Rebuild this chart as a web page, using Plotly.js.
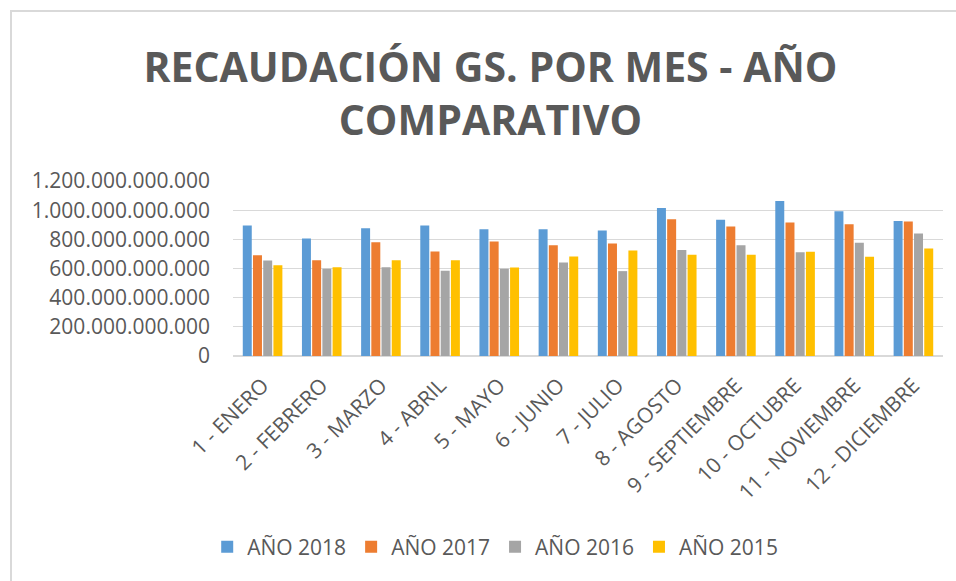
<!DOCTYPE html>
<html>
<head>
<meta charset="utf-8">
<script src="https://cdn.plot.ly/plotly-3.0.1.min.js"></script>
<style>
html,body{margin:0;padding:0;background:#fff;}
#wrap{position:relative;width:956px;height:581px;overflow:hidden;}
#chart{position:absolute;left:0;top:0;width:956px;height:581px;}
#frame{position:absolute;left:10px;top:10px;width:1000px;height:700px;border-left:2px solid #d9d9d9;border-top:2px solid #d9d9d9;pointer-events:none;}
</style>
</head>
<body>
<div id="wrap"><div id="chart"></div><div id="frame"></div></div>
<script>
const months = ["1 - ENERO","2 - FEBRERO","3 - MARZO","4 - ABRIL","5 - MAYO","6 - JUNIO","7 - JULIO","8 - AGOSTO","9 - SEPTIEMBRE","10 - OCTUBRE","11 - NOVIEMBRE","12 - DICIEMBRE"];
const seriesNames = ["AÑO 2018","AÑO 2017","AÑO 2016","AÑO 2015"];
const y2018 = [894e9, 805e9, 876e9, 894e9, 869e9, 869e9, 860e9, 1015e9, 935e9, 1063e9, 992e9, 926e9];
const y2017 = [691e9, 657e9, 780e9, 716e9, 785e9, 760e9, 771e9, 938e9, 888e9, 915e9, 903e9, 922e9];
const y2016 = [655e9, 598e9, 609e9, 584e9, 598e9, 641e9, 582e9, 726e9, 760e9, 712e9, 776e9, 840e9];
const y2015 = [623e9, 609e9, 657e9, 657e9, 607e9, 682e9, 723e9, 694e9, 694e9, 714e9, 680e9, 737e9];
const yTicks = [0, 200e9, 400e9, 600e9, 800e9, 1000e9, 1200e9];
const colors = ["#5B9BD5","#ED7D31","#A5A5A5","#FFC000"];

const allY = [y2018, y2017, y2016, y2015];
const traces = allY.map((ys, i) => ({
  type: 'bar',
  name: seriesNames[i],
  x: months,
  y: ys,
  marker: {color: colors[i], line: {width: 0}},
  hoverinfo: 'x+y'
}));

const layout = {
  width: 956, height: 581,
  paper_bgcolor: '#ffffff', plot_bgcolor: '#ffffff',
  separators: ',.',
  margin: {l: 233, r: 13, t: 181, b: 225, pad: 0},
  barmode: 'group',
  bargap: 0.31,
  bargroupgap: 0.12,
  font: {family: 'Open Sans, sans-serif', color: '#595959'},
  title: {
    text: '<b>RECAUDACIÓN GS. POR MES - AÑO<br>COMPARATIVO</b>',
    font: {family: 'Open Sans, sans-serif', size: 41, color: '#595959'},
    x: 0.513, xref: 'container', xanchor: 'center',
    y: 1 - 82/581, yref: 'container', yanchor: 'top'
  },
  xaxis: {
    tickangle: -45,
    tickfont: {size: 21, color: '#595959'},
    showgrid: false,
    showline: false,
    ticks: '',
    ticklabelstandoff: 12,
    automargin: false
  },
  yaxis: {
    range: [0, 1200e9],
    tickvals: yTicks,
    tickformat: ',d',
    tickfont: {size: 21, color: '#595959'},
    showgrid: true,
    gridcolor: '#d9d9d9',
    gridwidth: 1.3,
    zeroline: true,
    zerolinecolor: '#d9d9d9',
    zerolinewidth: 1.3,
    ticks: '',
    ticklabelstandoff: 22,
    automargin: false,
    fixedrange: true
  },
  showlegend: true,
  legend: {
    orientation: 'h',
    x: 0.518, xref: 'container', xanchor: 'center',
    y: 1 - 547/581, yref: 'container', yanchor: 'middle',
    font: {size: 21, color: '#595959'},
    itemwidth: 30,
    traceorder: 'normal'
  }
};

Plotly.newPlot('chart', traces, layout, {displayModeBar: false, staticPlot: true});
</script>
</body>
</html>
